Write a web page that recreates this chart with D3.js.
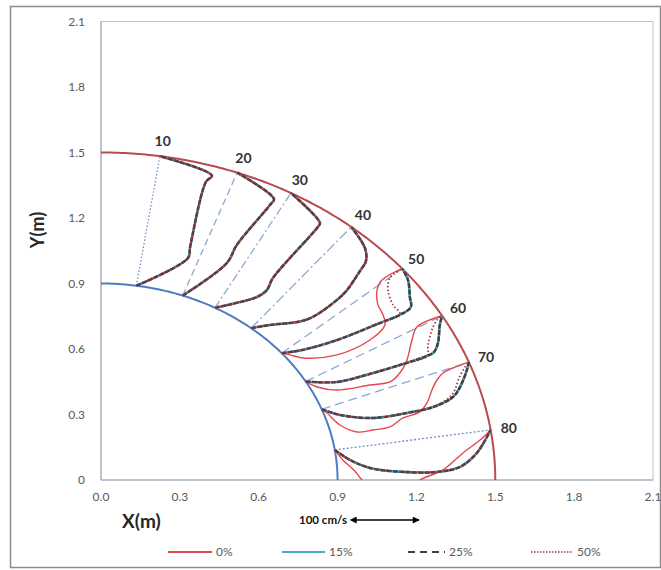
<!DOCTYPE html>
<html>
<head>
<meta charset="utf-8">
<script src="https://cdn.jsdelivr.net/npm/d3@7"></script>
<style>
	body { margin: 0; background: #fff; }
	text { font-family: Lato, "Open Sans", sans-serif; }
</style>
</head>
<body>
<svg id="chart" width="661" height="570"></svg>
<script>
// axis ticks
const xTicks = [0, 0.3, 0.6, 0.9, 1.2, 1.5, 1.8, 2.1];
const xTickLabels = ["0.0", "0.3", "0.6", "0.9", "1.2", "1.5", "1.8", "2.1"];
const yTicks = [0, 0.3, 0.6, 0.9, 1.2, 1.5, 1.8, 2.1];
const yTickLabels = ["0", "0.3", "0.6", "0.9", "1.2", "1.5", "1.8", "2.1"];

// bend walls (m)
const innerRadius = 0.9;
const outerRadius = 1.5;

// measuring sections: name and angle from the y axis (deg)
const sectionNames = ["10", "20", "30", "40", "50", "60", "70", "80"];
const sectionAngles = [8.6, 20.2, 28.8, 39.4, 49.8, 59.9, 68.9, 81.2];

const seriesNames = ["0%", "15%", "25%", "50%"];

// velocity profile points between the walls, [x, y] in m
// 25% trace (the 15% trace lies on top of it everywhere in the picture)
const profile25 = [
	[[0.331, 1.017], [0.339, 1.067], [0.399, 1.365], [0.422, 1.394]],
	[[0.479, 0.994], [0.517, 1.077], [0.643, 1.260], [0.658, 1.287]],
	[[0.529, 0.815], [0.593, 0.838], [0.631, 0.870], [0.654, 0.925], [0.825, 1.159], [0.833, 1.177]],
	[[0.643, 0.710], [0.757, 0.726], [0.806, 0.747], [0.898, 0.825], [0.936, 0.870], [0.985, 0.957], [1.008, 1.003], [1.004, 1.063]],
	[[0.768, 0.596], [0.898, 0.641], [1.061, 0.719], [1.137, 0.756], [1.179, 0.792], [1.175, 0.838], [1.168, 0.916]],
	[[0.898, 0.449], [1.023, 0.486], [1.149, 0.531], [1.240, 0.568], [1.267, 0.586], [1.282, 0.628], [1.289, 0.710]],
	[[0.909, 0.298], [1.035, 0.284], [1.164, 0.307], [1.263, 0.334], [1.339, 0.380], [1.366, 0.426], [1.392, 0.504]],
	[[0.947, 0.092], [1.023, 0.055], [1.149, 0.037], [1.278, 0.037], [1.366, 0.060], [1.430, 0.124]]
];
const profile15 = profile25;

// 0% trace where it leaves the others (sections 50-80)
const profile0Own = {
	"50": [[0.719, 0.573], [0.768, 0.559], [0.898, 0.573], [1.023, 0.641], [1.080, 0.710], [1.073, 0.756], [1.054, 0.802], [1.050, 0.870], [1.069, 0.916]],
	"60": [[0.822, 0.426], [0.898, 0.412], [1.023, 0.435], [1.099, 0.449], [1.137, 0.490], [1.164, 0.550], [1.183, 0.641], [1.202, 0.701]],
	"70": [[0.860, 0.307], [0.909, 0.252], [0.974, 0.220], [1.035, 0.229], [1.099, 0.243], [1.149, 0.284], [1.213, 0.312], [1.240, 0.353], [1.259, 0.412], [1.278, 0.458], [1.301, 0.490], [1.339, 0.513]],
	"80": [[0.920, 0.092], [0.962, 0.046], [0.993, 0.000], [1.042, -0.055], [1.137, -0.069], [1.213, 0.000], [1.301, 0.046], [1.377, 0.124], [1.442, 0.183]]
};

// 50% trace where it leaves the others (sections 50-70)
const profile50Own = {
	"50": [[0.768, 0.596], [0.898, 0.641], [1.061, 0.719], [1.137, 0.760], [1.111, 0.802], [1.092, 0.870], [1.099, 0.925]],
	"60": [[0.898, 0.449], [1.023, 0.486], [1.149, 0.531], [1.240, 0.568], [1.244, 0.618], [1.259, 0.687], [1.278, 0.733]],
	"70": [[0.909, 0.298], [1.035, 0.284], [1.164, 0.307], [1.263, 0.334], [1.327, 0.380], [1.346, 0.412], [1.362, 0.467], [1.385, 0.518]]
};

const profile0 = sectionNames.map((s, i) => profile0Own[s] || profile25[i]);
const profile50 = sectionNames.map((s, i) => profile50Own[s] || profile25[i]);

// scale arrow: 100 cm/s drawn between these x values (m)
const arrowSpan = [0.97, 1.21];

const svg = d3.select("#chart");

const x = d3.scaleLinear().domain([0, 2.1]).range([101, 653]);
const y = d3.scaleLinear().domain([0, 2.1]).range([480, 21.5]);

const rad = d => d * Math.PI / 180;
const wallPoint = (r, a) => [r * Math.sin(rad(a)), r * Math.cos(rad(a))];

// outer frame
svg.append("rect")
	.attr("x", 10.5).attr("y", 6.5)
	.attr("width", 650).attr("height", 561)
	.style("fill", "none").style("stroke", "#8c8c8c").style("stroke-width", 1.5);

// plot area
svg.append("rect")
	.attr("x", x(0)).attr("y", y(2.1))
	.attr("width", x(2.1) - x(0)).attr("height", y(0) - y(2.1))
	.style("fill", "none").style("stroke", "#b3c3da").style("stroke-width", 1);

svg.append("line")
	.attr("x1", x(0)).attr("x2", x(2.1)).attr("y1", y(0)).attr("y2", y(0))
	.style("stroke", "#a6a6a6");
svg.append("line")
	.attr("x1", x(0)).attr("x2", x(0)).attr("y1", y(0)).attr("y2", y(2.1))
	.style("stroke", "#a6a6a6");

// tick labels
svg.selectAll("text.xtick")
	.data(xTicks)
	.enter().append("text")
	.attr("class", "xtick")
	.attr("x", d => x(d))
	.attr("y", 501)
	.attr("text-anchor", "middle")
	.style("font-size", "12px")
	.style("fill", "#595959")
	.text((d, i) => xTickLabels[i]);

svg.selectAll("text.ytick")
	.data(yTicks)
	.enter().append("text")
	.attr("class", "ytick")
	.attr("x", 85)
	.attr("y", d => y(d) + 4)
	.attr("text-anchor", "end")
	.style("font-size", "12px")
	.style("fill", "#595959")
	.text((d, i) => yTickLabels[i]);

// axis titles
svg.append("text")
	.attr("transform", "translate(44,230) rotate(-90)")
	.attr("text-anchor", "middle")
	.style("font-size", "18px").style("font-weight", "bold").style("fill", "#262626")
	.text("Y(m)");

svg.append("text")
	.attr("x", 122).attr("y", 528)
	.style("font-size", "19px").style("font-weight", "bold").style("fill", "#262626")
	.text("X(m)");

const clip = svg.append("clipPath").attr("id", "plot-clip");
clip.append("rect")
	.attr("x", x(0)).attr("y", y(2.1))
	.attr("width", x(2.1) - x(0)).attr("height", y(0) - y(2.1));

const plot = svg.append("g").attr("clip-path", "url(#plot-clip)");

// walls
const arcLine = d3.line().x(d => x(d[0])).y(d => y(d[1]));
const arcAngles = d3.range(0, 90.5, 0.5);

plot.append("path")
	.attr("d", arcLine(arcAngles.map(a => wallPoint(innerRadius, a))))
	.style("fill", "none").style("stroke", "#4f7cc0").style("stroke-width", 2);

plot.append("path")
	.attr("d", arcLine(arcAngles.map(a => wallPoint(outerRadius, a))))
	.style("fill", "none").style("stroke", "#b94a4d").style("stroke-width", 2);

// section lines
const sectionDash = ["1.5,2", "7,4", "8,3,2,3", "10,3,2,3", "9,5", "9,5", "9,5", "2,2"];

plot.selectAll("line.section")
	.data(sectionAngles)
	.enter().append("line")
	.attr("class", "section")
	.attr("x1", d => x(wallPoint(innerRadius, d)[0]))
	.attr("y1", d => y(wallPoint(innerRadius, d)[1]))
	.attr("x2", d => x(wallPoint(outerRadius, d)[0]))
	.attr("y2", d => y(wallPoint(outerRadius, d)[1]))
	.style("stroke", (d, i) => i === 0 || i === 7 ? "#6f8fc8" : "#8ea9cf")
	.style("stroke-width", 1.3)
	.style("stroke-dasharray", (d, i) => sectionDash[i]);

// velocity profiles
const smooth = d3.curveCatmullRom.alpha(0.5);
const seriesStyle = [
	{ data: profile0, color: "#e8464e", width: 1.4, dash: null },
	{ data: profile15, color: "#4bacc6", width: 2.6, dash: null },
	{ data: profile25, color: "#404040", width: 2.4, dash: "5,1.3" },
	{ data: profile50, color: "#a8303c", width: 1.7, dash: "1.5,2.2" }
];

const drawOrder = [1, 0, 2, 3];

drawOrder.forEach(k => {
	const s = seriesStyle[k];
	const line = d3.line().x(d => x(d[0])).y(d => y(d[1])).curve(smooth);
	plot.selectAll("path.s" + k)
		.data(s.data)
		.enter().append("path")
		.attr("class", "s" + k)
		.attr("d", (pts, i) => line([wallPoint(innerRadius, sectionAngles[i])]
			.concat(pts)
			.concat([wallPoint(outerRadius, sectionAngles[i])])))
		.style("fill", "none")
		.style("stroke", s.color)
		.style("stroke-width", s.width)
		.style("stroke-dasharray", s.dash);
});

// section labels
svg.selectAll("text.section")
	.data(sectionAngles)
	.enter().append("text")
	.attr("class", "section")
	.attr("x", d => x(wallPoint(1.57, d)[0]))
	.attr("y", d => y(wallPoint(1.57, d)[1]) + 5)
	.attr("text-anchor", "middle")
	.style("font-size", "14px").style("font-weight", "bold").style("fill", "#333")
	.text((d, i) => sectionNames[i]);

// velocity scale arrow
const defs = svg.append("defs");
["end", "start"].forEach(kind => {
	defs.append("marker")
		.attr("id", "arrow-" + kind)
		.attr("viewBox", "0 0 10 10")
		.attr("refX", kind === "end" ? 9 : 1).attr("refY", 5)
		.attr("markerWidth", 9).attr("markerHeight", 7)
		.attr("markerUnits", "userSpaceOnUse")
		.attr("orient", "auto-start-reverse")
		.append("path")
		.attr("d", "M0,0L10,5L0,10Z")
		.style("fill", "#000");
});

svg.append("line")
	.attr("x1", x(arrowSpan[0])).attr("x2", x(arrowSpan[1]))
	.attr("y1", 520).attr("y2", 520)
	.style("stroke", "#000").style("stroke-width", 1.6)
	.attr("marker-start", "url(#arrow-start)")
	.attr("marker-end", "url(#arrow-end)");

svg.append("text")
	.attr("x", x(arrowSpan[0]) - 9).attr("y", 524)
	.attr("text-anchor", "end")
	.style("font-size", "11.5px").style("font-weight", "bold").style("fill", "#111")
	.text("100 cm/s");

// legend
const legendX = [168, 282, 408, 531];
const legendSample = [44, 43, 37, 42];
const legendDash = [null, null, "7,5", "1.5,1.5"];
const legendY = 552;

const legend = svg.selectAll("g.legend")
	.data(seriesNames)
	.enter().append("g")
	.attr("class", "legend")
	.attr("transform", (d, i) => "translate(" + legendX[i] + "," + legendY + ")");

legend.append("line")
	.attr("x1", 0).attr("x2", (d, i) => legendSample[i])
	.attr("y1", 0).attr("y2", 0)
	.style("stroke", (d, i) => seriesStyle[i].color)
	.style("stroke-width", (d, i) => i === 3 ? 1.3 : 2)
	.style("stroke-dasharray", (d, i) => legendDash[i]);

legend.append("text")
	.attr("x", (d, i) => legendSample[i] + 4)
	.attr("y", 4)
	.style("font-size", "12px").style("fill", "#595959")
	.text(d => d);
</script>
</body>
</html>
